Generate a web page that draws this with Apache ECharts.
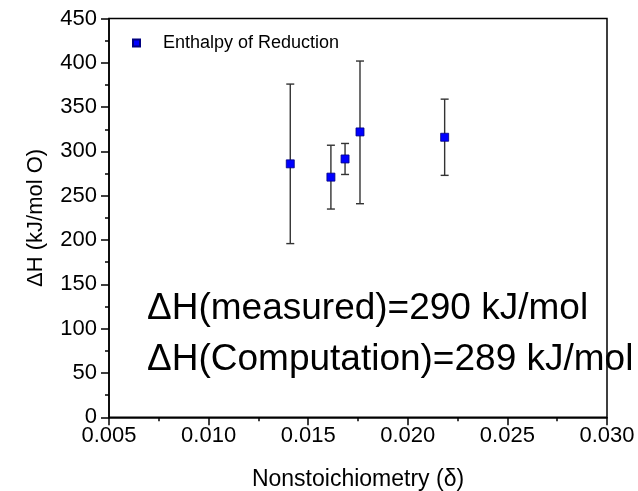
<!DOCTYPE html>
<html>
<head>
<meta charset="utf-8">
<script src="https://cdn.jsdelivr.net/npm/echarts@6/dist/echarts.min.js"></script>
<style>
  html, body { margin: 0; padding: 0; background: #fff; }
  #chart { width: 638px; height: 491px; }
</style>
</head>
<body>
<div id="chart"></div>
<script>
const chart = echarts.init(document.getElementById("chart"));

const FONT = "Liberation Sans, Arial, sans-serif";

// values
const delta = [0.0141, 0.01614, 0.01685, 0.0176, 0.02185];
const enthalpy = [286, 271, 291.5, 322, 316];
const errLow = [196, 235, 274, 241, 273];
const errHigh = [376, 307, 309, 402, 359];

const xTicks = { min: 0.005, max: 0.030, interval: 0.005 };
const yTicks = { min: 0, max: 450, interval: 50 };

const notes = ["\u0394H(measured)=290 kJ/mol", "\u0394H(Computation)=289 kJ/mol"];

const points = delta.map((x, i) => [x, enthalpy[i]]);
const bars = delta.map((x, i) => [x, errLow[i], errHigh[i]]);

const axisCommon = {
  axisLine: { show: true, lineStyle: { color: "#000", width: 1.5 } },
  axisTick: { show: true, length: 8, lineStyle: { color: "#000", width: 1.5 } },
  minorTick: { show: true, splitNumber: 2, length: 4, lineStyle: { color: "#000", width: 1.5 } },
  splitLine: { show: false }
};

chart.setOption({
  animation: false,
  backgroundColor: "#fff",
  textStyle: { fontFamily: FONT },
  grid: {
    left: 109, right: 31, top: 18.5, bottom: 73.7,
    outerBoundsMode: "none", containLabel: false,
    show: true, borderColor: "#000", borderWidth: 1.5, backgroundColor: "transparent"
  },
  legend: {
    left: 127, top: 29,
    icon: "rect", itemWidth: 7, itemHeight: 7,
    textStyle: { fontFamily: FONT, fontSize: 18, color: "#000", padding: [0, 0, 0, 18] },
    data: ["Enthalpy of Reduction"]
  },
  xAxis: Object.assign({
    type: "value",
    min: xTicks.min, max: xTicks.max, interval: xTicks.interval,
    name: "Nonstoichiometry (\u03b4)",
    nameLocation: "middle", nameGap: 51,
    nameTextStyle: { fontFamily: FONT, fontSize: 23, color: "#000" },
    axisLabel: {
      fontFamily: FONT, fontSize: 22, color: "#000", margin: 8,
      formatter: v => v.toFixed(3)
    }
  }, axisCommon),
  yAxis: Object.assign({
    type: "value",
    min: yTicks.min, max: yTicks.max, interval: yTicks.interval,
    name: "\u0394H (kJ/mol O)",
    nameLocation: "middle", nameGap: 62,
    nameTextStyle: { fontFamily: FONT, fontSize: 22, color: "#000" },
    axisLabel: { fontFamily: FONT, fontSize: 22, color: "#000", margin: 12 }
  }, axisCommon),
  graphic: notes.map((t, i) => ({
    type: "text", x: 147, y: 309 + i * 51, z: 100,
    style: { text: t, font: "37px " + FONT, fill: "#000", verticalAlign: "middle" }
  })),
  series: [
    {
      type: "custom",
      name: "error",
      data: bars,
      z: 2,
      renderItem: (params, api) => {
        const x = api.value(0);
        const lo = api.coord([x, api.value(1)]);
        const hi = api.coord([x, api.value(2)]);
        const cap = 4;
        const style = { stroke: "#333", lineWidth: 1.4 };
        return {
          type: "group",
          children: [
            { type: "line", shape: { x1: lo[0], y1: lo[1], x2: hi[0], y2: hi[1] }, style },
            { type: "line", shape: { x1: hi[0] - cap, y1: hi[1], x2: hi[0] + cap, y2: hi[1] }, style },
            { type: "line", shape: { x1: lo[0] - cap, y1: lo[1], x2: lo[0] + cap, y2: lo[1] }, style }
          ]
        };
      }
    },
    {
      type: "scatter",
      name: "Enthalpy of Reduction",
      data: points,
      symbol: "rect",
      symbolSize: 8,
      z: 3,
      itemStyle: { color: "#0000ff", borderColor: "#000080", borderWidth: 0.8, opacity: 1 }
    }
  ]
});
</script>
</body>
</html>
